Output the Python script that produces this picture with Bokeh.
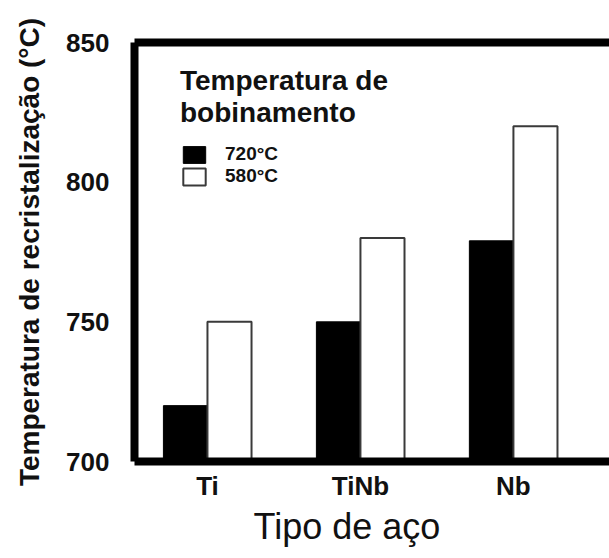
from bokeh.plotting import figure
from bokeh.models import (Range1d, FixedTicker, LinearAxis, Legend, LegendItem,
                          ColumnDataSource, Title)
from bokeh.transform import dodge
from bokeh.embed import file_html
from bokeh.resources import INLINE

# ---- data ----
categories = ["Ti", "TiNb", "Nb"]
temp_720 = [720, 750, 779]
temp_580 = [750, 780, 820]
y_ticks = [700, 750, 800, 850]
series_labels = ["720°C", "580°C"]

xpos = list(range(1, len(categories) + 1))
src = ColumnDataSource(dict(x=xpos, cat=categories, t720=temp_720, t580=temp_580))

FONT = "Liberation Sans"

p = figure(width=609, height=558, output_backend="svg", toolbar_location=None,
           x_range=Range1d(0.523, 3.628), y_range=Range1d(700, 850),
           min_border_left=134, min_border_right=0, min_border_top=42,
           min_border_bottom=97, x_axis_location=None, y_axis_location=None)
p.grid.visible = False
p.outline_line_color = None
p.background_fill_color = "white"
p.border_fill_color = "white"

bw = 0.288
r1 = p.vbar(x=dodge("x", -bw / 2, range=p.x_range), top="t720", bottom=700, width=bw,
            source=src, fill_color="black", line_color="black", line_width=1)
r2 = p.vbar(x=dodge("x", bw / 2, range=p.x_range), top="t580", bottom=700, width=bw,
            source=src, fill_color="white", line_color="#3a3a3a", line_width=2)

# left axis
ya = LinearAxis(ticker=FixedTicker(ticks=y_ticks),
                axis_label="Temperatura de recristalização (°C)")
ya.axis_line_width = 8
ya.axis_line_color = "black"
ya.major_tick_line_color = None
ya.minor_tick_line_color = None
ya.major_tick_out = 0
ya.major_tick_in = 0
ya.major_label_standoff = 25
ya.major_label_text_font = FONT
ya.major_label_text_font_style = "bold"
ya.major_label_text_font_size = "26px"
ya.major_label_text_color = "#111111"
ya.axis_label_text_font = FONT
ya.axis_label_text_font_style = "bold"
ya.axis_label_text_font_size = "28px"
ya.axis_label_text_color = "#111111"
ya.axis_label_standoff = 18
p.add_layout(ya, "left")

# bottom axis
xa = LinearAxis(ticker=FixedTicker(ticks=xpos),
                major_label_overrides={x: c for x, c in zip(xpos, categories)})
xa.axis_line_width = 8
xa.axis_line_color = "black"
xa.major_tick_line_color = None
xa.minor_tick_line_color = None
xa.major_tick_out = 0
xa.major_tick_in = 0
xa.major_label_standoff = 9
xa.major_label_text_font = FONT
xa.major_label_text_font_style = "bold"
xa.major_label_text_font_size = "26px"
xa.major_label_text_color = "#111111"
p.add_layout(xa, "below")

p.add_layout(Title(text="Tipo de aço", align="left", offset=119,
                   text_font=FONT, text_font_style="normal",
                   text_font_size="36px", text_color="#111111", standoff=0), "below")

# top border axis
ta = LinearAxis(ticker=FixedTicker(ticks=[]))
ta.axis_line_width = 8
ta.axis_line_color = "black"
ta.major_tick_line_color = None
ta.minor_tick_line_color = None
ta.major_label_text_font_size = "0px"
ta.major_tick_out = 0
ta.major_tick_in = 0
p.add_layout(ta, "above")

legend = Legend(items=[LegendItem(label=series_labels[0], renderers=[r1]),
                       LegendItem(label=series_labels[1], renderers=[r2])],
                location=(46, 274), title="Temperatura de\nbobinamento")
legend.title_text_font = FONT
legend.title_text_font_style = "bold"
legend.title_text_font_size = "28px"
legend.title_text_color = "#111111"
legend.title_standoff = 14
legend.label_text_font = FONT
legend.label_text_font_style = "bold"
legend.label_text_font_size = "19px"
legend.label_text_color = "#111111"
legend.glyph_width = 28
legend.glyph_height = 21
legend.label_height = 21
legend.spacing = 0
legend.label_standoff = 17
legend.padding = 0
legend.margin = 0
legend.border_line_color = None
legend.background_fill_alpha = 0
p.add_layout(legend, "center")

open("out.html", "w").write(file_html(p, INLINE))
